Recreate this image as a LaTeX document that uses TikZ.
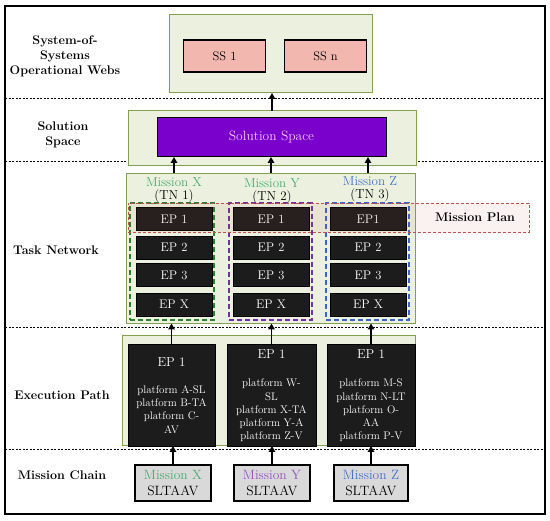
\documentclass[tikz,border=0pt]{standalone}
\usetikzlibrary{arrows.meta}
\definecolor{webfill}{RGB}{235,241,222}
\definecolor{webedge}{RGB}{130,160,80}
\definecolor{sspink}{RGB}{242,184,176}
\definecolor{solpurple}{RGB}{122,0,204}
\definecolor{soltext}{RGB}{245,205,245}
\definecolor{epblack}{RGB}{28,28,28}
\definecolor{mcgray}{RGB}{217,217,217}
\definecolor{mgreen}{RGB}{70,170,110}
\definecolor{mpurple}{RGB}{150,80,190}
\definecolor{mblue}{RGB}{70,110,200}
\definecolor{dgreen}{RGB}{40,130,50}
\definecolor{dpurple}{RGB}{112,48,160}
\definecolor{dblue}{RGB}{60,100,200}
\definecolor{planred}{RGB}{192,80,77}
\tikzset{
  frame/.style={draw,line width=1.5pt},
  sepline/.style={line width=.8pt,dash pattern=on 2pt off 1.5pt},
  lvl/.style={align=center,font=\fontsize{12.5}{15}\selectfont\bfseries,inner sep=0pt},
  webbox/.style={draw=webedge,fill=webfill,line width=1pt,inner sep=0pt,outer sep=0pt},
  ssbox/.style={draw,fill=sspink,line width=1.2pt,minimum width=82,minimum height=32,inner sep=0pt,outer sep=0pt,font=\fontsize{12.5}{15}\selectfont},
  solbox/.style={draw,fill=solpurple,text=soltext,line width=1pt,inner sep=0pt,outer sep=0pt,font=\fontsize{13.5}{16}\selectfont},
  epbox/.style={draw=black,fill=epblack,text=white,minimum width=76,minimum height=23,inner sep=0pt,outer sep=0pt,font=\fontsize{12.5}{15}\selectfont},
  exbox/.style={draw=black,fill=epblack,minimum height=102,inner sep=0pt,outer sep=0pt},
  extitle/.style={text=white,inner sep=0pt,font=\fontsize{13}{15}\selectfont},
  plat/.style={text=white,align=center,inner sep=0pt,font=\fontsize{11}{13.2}\selectfont},
  mcbox/.style={draw,fill=mcgray,line width=1.3pt,minimum height=36,inner sep=0pt,outer sep=0pt,align=center,font=\fontsize{13.5}{16}\selectfont},
  mlab/.style={inner sep=0pt,font=\fontsize{13}{15}\selectfont},
  colbox/.style={line width=1.6pt,dash pattern=on 5pt off 3pt,minimum height=117,inner sep=0pt},
  planbox/.style={draw=planred,line width=.9pt,dash pattern=on 3pt off 2pt,fill=planred,fill opacity=.08,minimum width=401,minimum height=29,inner sep=0pt},
  uparr/.style={-{Triangle[length=6pt,width=6.5pt]},line width=1.5pt}
}
\begin{document}
\begin{tikzpicture}[x=1pt,y=-1pt]
  \useasboundingbox (0,0) rectangle (550,521);
  \draw[frame] (5,6) rectangle (545,514);
  \foreach \y in {98,161,327,449} \draw[sepline] (5,\y) -- (545,\y);

  % layer names
  \node[lvl] (lsos) at (65,56) {System-of-\\Systems\\Operational Webs};
  \node[lvl] (lsol) at (63,135) {Solution\\Space};
  \node[lvl] (ltn) at (56,250) {Task Network};
  \node[lvl] (lex) at (62,395) {Execution Path};
  \node[lvl] (lmc) at (62,475) {Mission Chain};

  % system-of-systems webs
  \node[webbox,minimum width=203,minimum height=78] (sos) at (270.5,54) {};
  \node[ssbox] (ss1) at (224.5,56) {SS 1}; \node[ssbox] (ssn) at (325.5,56) {SS n};

  % solution space
  \node[webbox,minimum width=288,minimum height=55] (solb) at (272,138.5) {};
  \node[solbox,minimum width=229,minimum height=39] (sol) at (271.5,137.5) {Solution Space};

  % task network
  \node[webbox,minimum width=289,minimum height=150] (tn) at (270.5,248.5) {};
  \node[mlab,text=mgreen] (mx) at (174,182) {Mission X}; \node[mlab] (tn1) at (174,196) {(TN 1)};
  \node[mlab,text=mgreen] (my) at (272,183) {Mission Y}; \node[mlab] (tn2) at (272,197) {(TN 2)};
  \node[mlab,text=mblue] (mz) at (370,181) {Mission Z}; \node[mlab] (tn3) at (370,195) {(TN 3)};
  \node[epbox] (ep1x) at (174,219) {EP 1}; \node[epbox] (ep1y) at (271,219) {EP 1}; \node[epbox] (ep1z) at (368,219) {EP1};
  \node[epbox] (ep2x) at (174,247.5) {EP 2}; \node[epbox] (ep2y) at (271,247.5) {EP 2}; \node[epbox] (ep2z) at (368,247.5) {EP 2};
  \node[epbox] (ep3x) at (174,275) {EP 3}; \node[epbox] (ep3y) at (271,275) {EP 3}; \node[epbox] (ep3z) at (368,275) {EP 3};
  \node[epbox] (epxx) at (174,304.5) {EP X}; \node[epbox] (epxy) at (271,304.5) {EP X}; \node[epbox] (epxz) at (368,304.5) {EP X};
  \node[colbox,draw=dgreen,minimum width=84] (colx) at (172,261.5) {};
  \node[colbox,draw=dpurple,minimum width=83] (coly) at (270.5,261.5) {};
  \node[colbox,draw=dblue,minimum width=83] (colz) at (367.5,261.5) {};
  \node[planbox] (plan) at (328.5,217.5) {};
  \node[lvl] (lplan) at (475,217) {Mission Plan};

  % execution paths
  \node[webbox,minimum width=293,minimum height=110] (exb) at (268.5,391) {};
  \node[exbox,minimum width=87] (ex1) at (171.5,395) {};
  \node[exbox,minimum width=89] (ex2) at (271.5,395) {};
  \node[exbox,minimum width=88] (ex3) at (371,395) {};
  \node[extitle] (ex1t) at (171.5,362) {EP 1};
  \node[extitle] (ex2t) at (271.5,354) {EP 1};
  \node[extitle] (ex3t) at (371,354) {EP 1};
  \node[plat] (ex1p) at (171.5,409.5) {platform A-SL\\platform B-TA\\platform C-\\AV};
  \node[plat] (ex2p) at (271.5,410.5) {platform W-\\SL\\platform X-TA\\platform Y-A\\platform Z-V};
  \node[plat] (ex3p) at (371,410.5) {platform M-S\\platform N-LT\\platform O-\\AA\\platform P-V};

  % mission chains
  \node[mcbox,minimum width=76] (mc1) at (173,483) {{\color{mgreen}Mission X}\\SLTAAV};
  \node[mcbox,minimum width=76] (mc2) at (272,483) {{\color{mpurple}Mission Y}\\SLTAAV};
  \node[mcbox,minimum width=74] (mc3) at (371,483) {{\color{mblue}Mission Z}\\SLTAAV};

  % arrows
  \draw[uparr] (mc1.north) -- (mc1.north |- ex1.south);
  \draw[uparr] (mc2.north) -- (mc2.north |- ex2.south);
  \draw[uparr] (mc3.north) -- (mc3.north |- ex3.south);
  \draw[uparr] (ex1.north) -- (ex1.north |- tn.south);
  \draw[uparr] (ex2.north) -- (ex2.north |- tn.south);
  \draw[uparr] (ex3.north) -- (ex3.north |- tn.south);
  \draw[uparr] (ep1x.north |- tn.north) -- (ep1x.north |- sol.south);
  \draw[uparr] (ep1y.north |- tn.north) -- (ep1y.north |- sol.south);
  \draw[uparr] (ep1z.north |- tn.north) -- (ep1z.north |- sol.south);
  \draw[uparr] (solb.north) -- (solb.north |- sos.south);
\end{tikzpicture}
\end{document}
